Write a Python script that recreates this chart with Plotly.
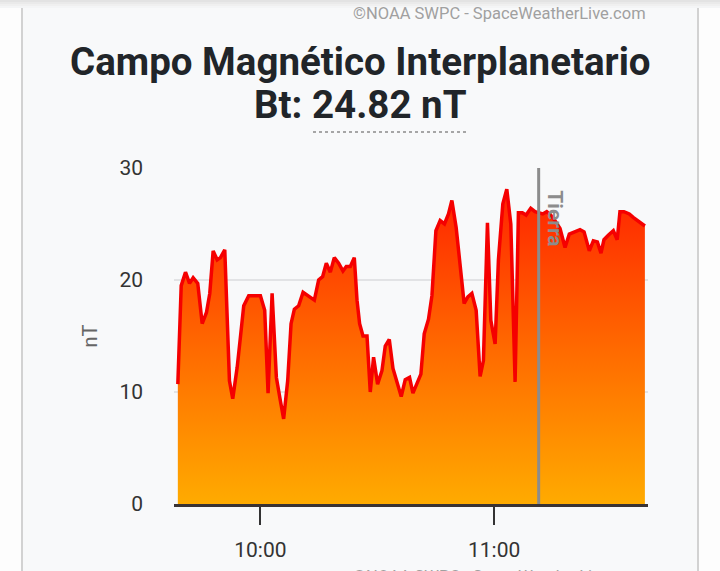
import plotly.graph_objects as go

# ---------------- data ----------------
day = "2024-05-11"
times = [
    "09:38:48", "09:39:40", "09:40:46", "09:41:48", "09:42:44", "09:43:55", "09:45:03", "09:46:09",
    "09:47:00", "09:47:52", "09:48:54", "09:49:45", "09:50:51", "09:52:03", "09:52:54", "09:54:02",
    "09:54:52", "09:55:43", "09:57:00", "10:00:00", "10:01:06", "10:01:58", "10:03:00", "10:04:06",
    "10:05:08", "10:05:58", "10:07:00", "10:07:52", "10:08:43", "10:09:49", "10:10:57", "10:12:08",
    "10:13:51", "10:14:57", "10:15:58", "10:16:55", "10:17:57", "10:18:58", "10:20:05", "10:21:12",
    "10:22:03", "10:23:05", "10:24:06", "10:24:48", "10:25:28", "10:26:20", "10:27:22", "10:28:12",
    "10:29:03", "10:30:05", "10:31:12", "10:32:03", "10:33:05", "10:34:02", "10:35:12", "10:36:09",
    "10:37:11", "10:38:17", "10:39:09", "10:40:11", "10:41:12", "10:42:03", "10:43:09", "10:44:02",
    "10:45:03", "10:46:09", "10:47:15", "10:48:17", "10:49:09", "10:50:15", "10:51:17", "10:52:18",
    "10:53:15", "10:54:17", "10:55:23", "10:56:24", "10:57:15", "10:58:17", "10:59:09", "11:00:15",
    "11:01:06", "11:02:14", "11:03:15", "11:04:17", "11:05:23", "11:06:14", "11:07:15", "11:08:12",
    "11:09:24", "11:10:30", "11:12:29", "11:13:30", "11:14:30", "11:15:38", "11:16:55", "11:18:12",
    "11:19:18", "11:20:30", "11:22:03", "11:23:05", "11:24:26", "11:25:28", "11:26:30", "11:27:26",
    "11:28:12", "11:29:18", "11:30:36", "11:31:36", "11:32:18", "11:33:20", "11:34:42", "11:35:42",
    "11:36:44", "11:38:42",
]
bt_values = [
    10.7, 19.5, 20.7, 19.7, 20.2, 19.7, 16.1, 17.1,
    18.8, 22.6, 21.8, 22.0, 22.7, 11.0, 9.4, 12.2,
    14.9, 17.7, 18.6, 18.6, 17.3, 9.9, 18.8, 11.3,
    9.2, 7.6, 11.0, 16.1, 17.4, 17.7, 18.9, 18.6,
    18.2, 20.0, 20.3, 21.5, 20.7, 22.0, 21.5, 20.8,
    21.2, 21.2, 22.0, 18.2, 16.1, 15.0, 15.0, 10.0,
    13.1, 10.7, 11.9, 14.1, 14.7, 12.1, 10.8, 9.6,
    11.1, 11.3, 9.9, 10.7, 11.6, 15.2, 16.5, 18.6,
    24.4, 25.3, 25.0, 25.9, 27.1, 24.7, 20.9, 17.9,
    18.5, 18.8, 17.3, 11.4, 12.8, 25.1, 16.4, 14.3,
    21.8, 26.8, 28.1, 25.0, 10.9, 26.0, 26.0, 25.8,
    26.4, 26.1, 25.9, 26.1, 25.8, 25.3, 24.6, 22.9,
    24.1, 24.3, 24.5, 24.3, 22.6, 23.5, 23.4, 22.4,
    23.6, 24.0, 24.4, 23.6, 26.1, 26.1, 25.9, 25.6,
    25.3, 24.82,
]
x_range = ["09:37:49", "11:39:30"]
x_tick_times = ["10:00:00", "11:00:00"]
x_tick_labels = ["10:00", "11:00"]
y_ticks = [0, 10, 20, 30]
y_range = [0, 30]
earth_time = "11:11:26"
earth_label = "Tierra"
title_line1 = "Campo Magnético Interplanetario"
title_prefix = "Bt: "
title_value = "24.82 nT"
y_title = "nT"
credit = "©NOAA SWPC - SpaceWeatherLive.com"

x = [f"{day} {t}" for t in times]

# ---------------- layout geometry ----------------
W, H = 720, 571
L, R, T, B = 174, 648, 168, 504


def px(xp):
    return (xp - L) / (R - L)


def py(yp):
    return (B - yp) / (B - T)


card = "#f8f9fa"
fig = go.Figure()
fig.add_trace(go.Scatter(
    x=x, y=bt_values, mode="lines",
    line=dict(color="#f50000", width=3.5),
    fill="tozeroy",
    fillgradient=dict(type="vertical", start=0, stop=30,
                      colorscale=[[0, "#ffab00"], [0.5, "#ff6400"], [1, "#ff1a00"]]),
    hoverinfo="skip", showlegend=False,
))

shapes = []
# outside of card
shapes.append(dict(type="rect", xref="paper", yref="paper", x0=px(0), x1=px(21), y0=py(0), y1=py(H),
                   fillcolor="#fdfdfd", line=dict(width=0), layer="below"))
shapes.append(dict(type="rect", xref="paper", yref="paper", x0=px(699), x1=px(W), y0=py(0), y1=py(H),
                   fillcolor="#fdfdfd", line=dict(width=0), layer="below"))
for xb in (22, 698):
    shapes.append(dict(type="line", xref="paper", yref="paper", x0=px(xb), x1=px(xb), y0=py(0), y1=py(H),
                       line=dict(color="#d2d2d2", width=2), layer="below"))
for i, c in enumerate(["#e3e3e3", "#eaeaea", "#f0f0f0", "#f4f5f6"]):
    shapes.append(dict(type="rect", xref="paper", yref="paper", x0=px(0), x1=px(W), y0=py(i * 2), y1=py(i * 2 + 2),
                       fillcolor=c, line=dict(width=0), layer="below"))
# dotted underline under value
shapes.append(dict(type="line", xref="paper", yref="paper", x0=px(313), x1=px(466), y0=py(132), y1=py(132),
                   line=dict(color="#8a8a8a", width=1.5, dash="dot")))
# earth marker
shapes.append(dict(type="line", xref="x", yref="y", x0=f"{day} {earth_time}", x1=f"{day} {earth_time}",
                   y0=y_range[0], y1=y_range[1], line=dict(color="#8c8c8c", width=3)))

annotations = [
    dict(text=f"<b>{title_line1}</b>", xref="paper", yref="paper", x=px(360), y=py(61),
         xanchor="center", yanchor="middle", showarrow=False,
         font=dict(family="Roboto", size=38.5, color="#212529")),
    dict(text=f"<b>{title_prefix}{title_value}</b>", xref="paper", yref="paper", x=px(360), y=py(104),
         xanchor="center", yanchor="middle", showarrow=False,
         font=dict(family="Roboto", size=38.5, color="#212529")),
    dict(text=credit, xref="paper", yref="paper", x=px(648), y=py(13),
         xanchor="right", yanchor="middle", showarrow=False,
         font=dict(family="Roboto", size=16.5, color="#a0a0a0")),
    dict(text=credit, xref="paper", yref="paper", x=px(648), y=py(565),
         xanchor="right", yanchor="top", showarrow=False,
         font=dict(family="Roboto", size=16.5, color="#a0a0a0")),
    dict(text=earth_label, xref="x", yref="y", x=f"{day} {earth_time}", y=y_range[1],
         xanchor="left", yanchor="top", xshift=2, yshift=-20, textangle=90, showarrow=False,
         font=dict(family="Roboto", size=21, color="#8c8c8c", weight="bold")),
]

fig.update_layout(
    width=W, height=H,
    margin=dict(l=L, r=W - R, t=T, b=H - B, pad=0, autoexpand=False),
    paper_bgcolor=card, plot_bgcolor=card,
    shapes=shapes, annotations=annotations,
    showlegend=False,
    xaxis=dict(
        type="date", range=[f"{day} {x_range[0]}", f"{day} {x_range[1]}"],
        tickvals=[f"{day} {t}" for t in x_tick_times], ticktext=x_tick_labels,
        ticks="outside", ticklen=18, tickwidth=2, tickcolor="#333333",
        showline=True, linecolor="#3a3333", linewidth=2.5,
        showgrid=False, zeroline=False, automargin=False,
        ticklabelstandoff=7,
        tickfont=dict(family="Roboto", size=21, color="#333333"),
    ),
    yaxis=dict(
        range=y_range, tickvals=y_ticks,
        showgrid=True, gridcolor="#e2e3e5", gridwidth=1.5,
        zeroline=False, showline=False, ticks="", automargin=False,
        ticklabelstandoff=30,
        tickfont=dict(family="Roboto", size=21, color="#333333"),
        title=dict(text=y_title, standoff=16, font=dict(family="Roboto", size=20, color="#666666")),
    ),
)

fig.write_html("out.html", config={"displayModeBar": False},
               post_script="document.body.style.margin='0px';document.body.style.overflow='hidden';")
